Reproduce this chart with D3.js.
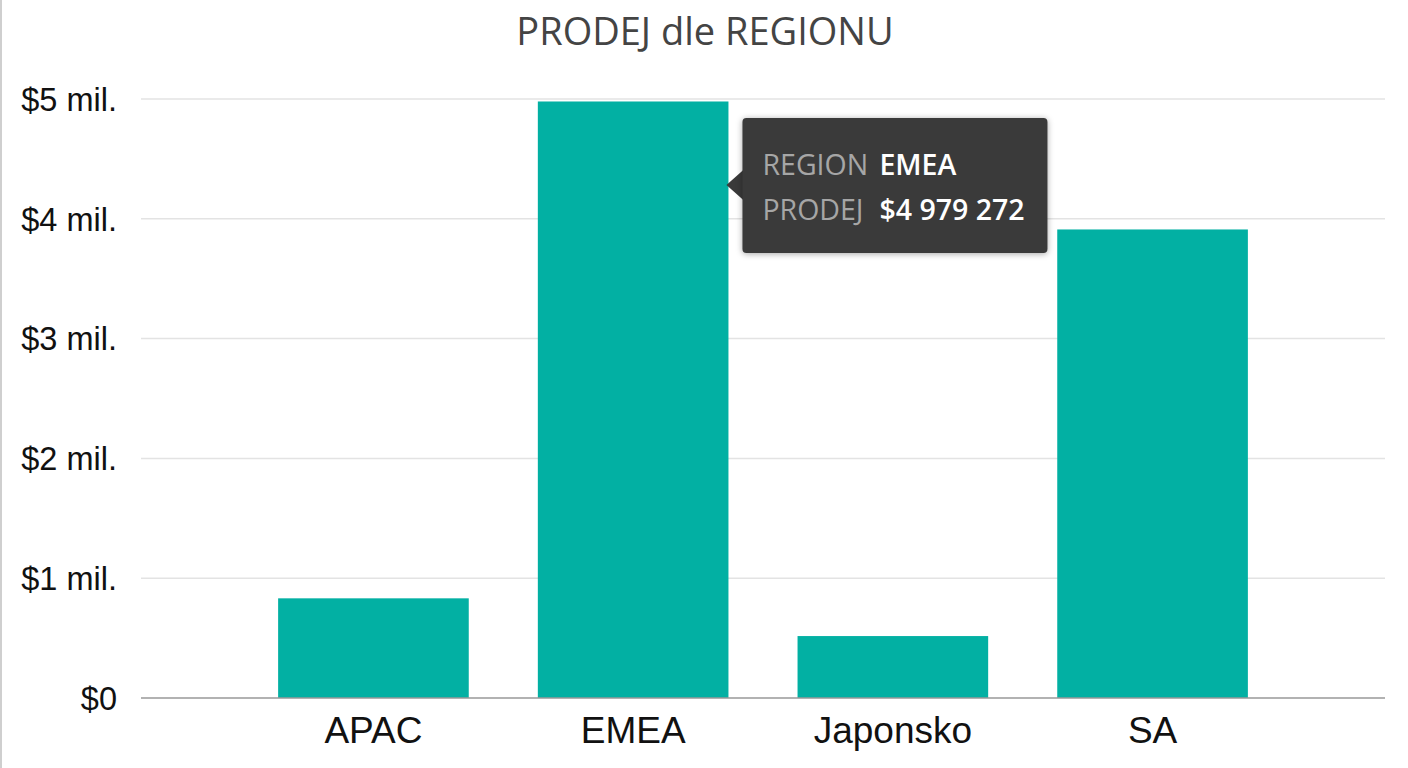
<!DOCTYPE html>
<html>
<head>
<meta charset="utf-8">
<script src="https://cdn.jsdelivr.net/npm/d3@7"></script>
<style>
  html, body { margin: 0; padding: 0; background: #fff; }
  #chart { width: 1408px; height: 768px; }
</style>
</head>
<body>
<div id="chart"></div>
<script>
const width  = 1408;
const height = 768;

const titleText = "PRODEJ dle REGIONU";
const regions = ["APAC", "EMEA", "Japonsko", "SA"];
const sales = [832000, 4979272, 517000, 3911000];
const yTicks = [0, 1000000, 2000000, 3000000, 4000000, 5000000];
const yTickLabels = ["$0", "$1 mil.", "$2 mil.", "$3 mil.", "$4 mil.", "$5 mil."];
const tooltipLabels = ["REGION", "PRODEJ"];
const tooltipValues = ["EMEA", "$4 979 272"];
const tooltipRegion = "EMEA";

const barColour = "#02b0a3";

const svg = d3.select("#chart").append("svg")
    .attr("width", width)
    .attr("height", height);

// Thin frame on the left edge of the visual.
svg.append("line")
    .attr("x1", 1).attr("x2", 1)
    .attr("y1", 0).attr("y2", height)
    .attr("stroke", "#cfcfcf")
    .attr("stroke-width", 2);

const x = d3.scaleBand()
    .domain(regions)
    .range([141, 1385])
    .paddingInner(0.266)
    .paddingOuter(0.528);

const y = d3.scaleLinear()
    .domain([0, 5000000])
    .range([698, 99]);

svg.append("text")
    .attr("x", 705)
    .attr("y", 45)
    .attr("text-anchor", "middle")
    .attr("font-family", "'Open Sans', sans-serif")
    .attr("font-size", 38)
    .attr("fill", "#444")
    .text(titleText);

// Gridlines (all but the zero line).
svg.append("g")
  .selectAll("line")
  .data(yTicks.filter(d => d > 0)).enter()
    .append("line")
      .attr("x1", 141).attr("x2", 1385)
      .attr("y1", d => y(d)).attr("y2", d => y(d))
      .attr("stroke", "#e3e3e3")
      .attr("stroke-width", 1.5);

svg.append("g")
  .selectAll("text")
  .data(yTicks).enter()
    .append("text")
      .attr("x", 117)
      .attr("y", d => y(d))
      .attr("dy", "0.36em")
      .attr("text-anchor", "end")
      .attr("font-family", "'Liberation Sans', Arial, sans-serif")
      .attr("font-size", 32.5)
      .attr("fill", "#111")
      .text((d, i) => yTickLabels[i]);

svg.append("g")
  .selectAll("rect")
  .data(regions).enter()
    .append("rect")
      .attr("x", d => x(d))
      .attr("y", (d, i) => y(sales[i]))
      .attr("width", x.bandwidth())
      .attr("height", (d, i) => y(0) - y(sales[i]))
      .attr("fill", barColour);

// Baseline axis.
svg.append("line")
    .attr("x1", 141).attr("x2", 1385)
    .attr("y1", y(0)).attr("y2", y(0))
    .attr("stroke", "#999")
    .attr("stroke-width", 1.5);

svg.append("g")
  .selectAll("text")
  .data(regions).enter()
    .append("text")
      .attr("x", d => x(d) + x.bandwidth() / 2)
      .attr("y", y(0) + 45)
      .attr("text-anchor", "middle")
      .attr("font-family", "'Liberation Sans', Arial, sans-serif")
      .attr("font-size", 37)
      .attr("fill", "#111")
      .text(d => d);

// Tooltip anchored next to the hovered bar.
const tipX = x(tooltipRegion) + x.bandwidth() - 2;
const tipY = 185;
const boxX = tipX + 16, boxY = 118, boxW = 305, boxH = 135;

const tip = svg.append("g");

tip.append("path")
    .attr("d", `M${tipX},${tipY} L${boxX + 2},${tipY - 16} L${boxX + 2},${tipY + 16} Z`)
    .attr("fill", "#3a3a3a");

tip.append("rect")
    .attr("x", boxX).attr("y", boxY)
    .attr("width", boxW).attr("height", boxH)
    .attr("rx", 4)
    .attr("fill", "#3a3a3a")
    .style("filter", "drop-shadow(0px 1px 3px rgba(0,0,0,0.35))");

tooltipLabels.forEach((label, i) => {
  tip.append("text")
      .attr("x", boxX + 20)
      .attr("y", 175 + i * 45)
      .attr("font-family", "'Open Sans', sans-serif")
      .attr("font-size", 28.5)
      .attr("fill", "#a6a6a6")
      .text(label);
  tip.append("text")
      .attr("x", boxX + 137)
      .attr("y", 175 + i * 45)
      .attr("font-family", "'Open Sans', sans-serif")
      .attr("font-size", 28.5)
      .attr("font-weight", 600)
      .attr("fill", "#fff")
      .text(tooltipValues[i]);
});
</script>
</body>
</html>
